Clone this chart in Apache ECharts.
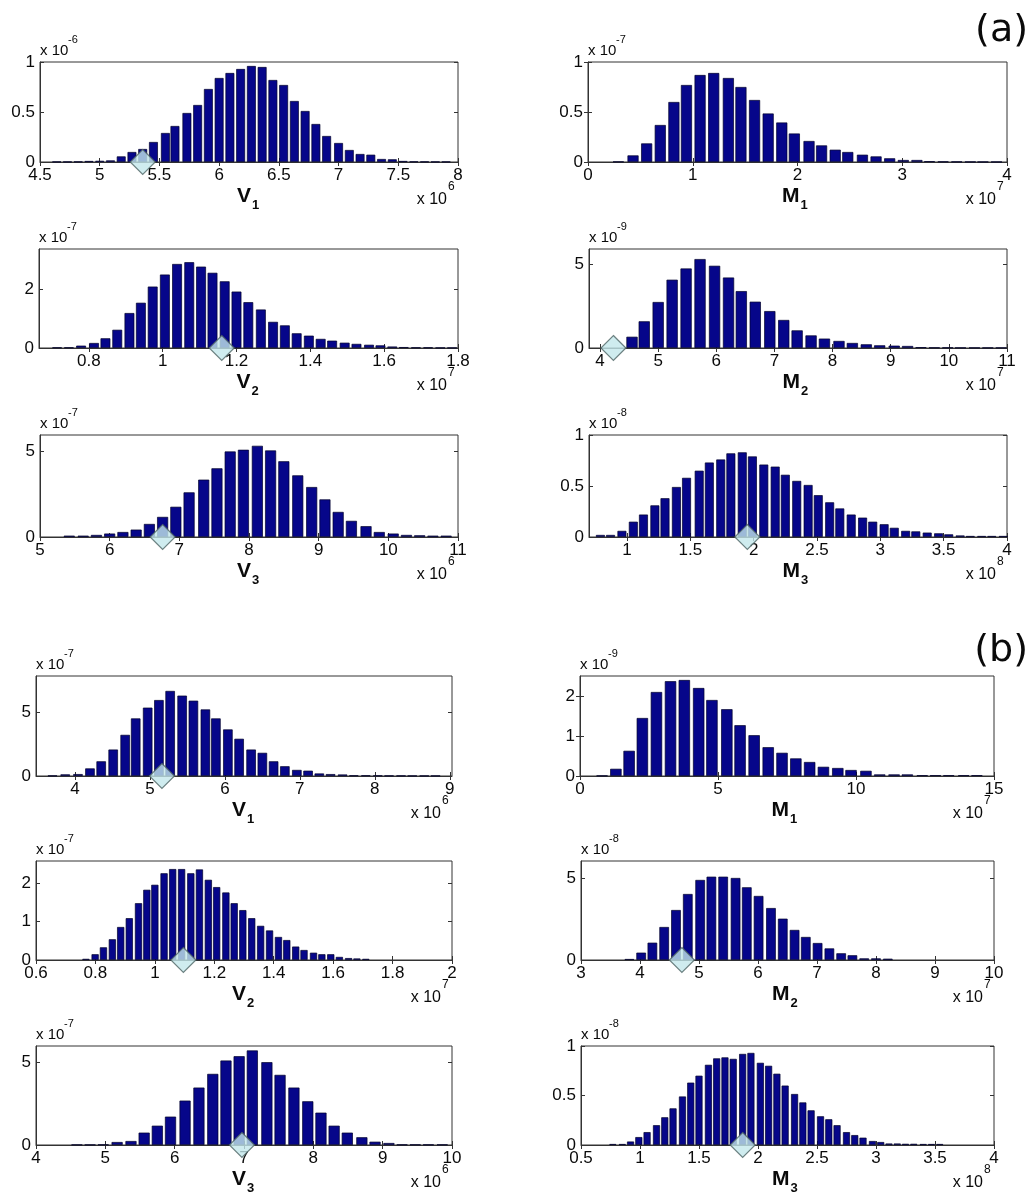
<!DOCTYPE html>
<html>
<head>
<meta charset="utf-8">
<script src="https://cdn.jsdelivr.net/npm/echarts@6/dist/echarts.min.js"></script>
<style>
html,body{margin:0;padding:0;background:#fff;}
#chart{width:1032px;height:1202px;}
</style>
</head>
<body>
<div id="chart"></div>
<script>
// ---------- (a) ----------
const aV1_x = [4.64,4.73,4.82,4.91,5.0,5.09,5.18,5.27,5.36,5.45,5.55,5.63,5.73,5.82,5.91,6.0,6.09,6.18,6.27,6.36,6.45,6.54,6.63,6.72,6.81,6.9,7.0,7.09,7.18,7.27,7.36,7.45,7.54,7.63,7.72,7.81,7.9];
const aV1_y = [0.003,0.003,0.004,0.01,0.012,0.016,0.056,0.1,0.13,0.2,0.29,0.36,0.49,0.57,0.73,0.84,0.89,0.93,0.96,0.95,0.82,0.77,0.61,0.51,0.38,0.26,0.19,0.12,0.08,0.073,0.03,0.027,0.01,0.005,0.004,0.003,0.003];
const aV1_xt = [4.5,5,5.5,6,6.5,7,7.5,8];
const aV1_yt = [0,0.5,1];
const aV1_mark = [5.36];

const aM1_x = [0.29,0.43,0.56,0.69,0.82,0.94,1.07,1.2,1.34,1.46,1.59,1.72,1.85,1.97,2.11,2.23,2.36,2.48,2.62,2.75,2.88,3.01,3.14,3.26,3.39,3.52,3.65,3.77,3.9];
const aM1_y = [0.004,0.066,0.186,0.37,0.6,0.77,0.87,0.89,0.84,0.75,0.62,0.485,0.395,0.285,0.21,0.166,0.123,0.1,0.073,0.056,0.037,0.02,0.02,0.008,0.005,0.004,0.003,0.002,0.002];
const aM1_xt = [0,1,2,3,4];
const aM1_yt = [0,0.5,1];
const aM1_mark = [];

const aV2_x = [0.714,0.746,0.779,0.814,0.845,0.877,0.91,0.941,0.973,1.006,1.039,1.072,1.104,1.135,1.168,1.2,1.232,1.266,1.299,1.331,1.363,1.396,1.428,1.459,1.493,1.525,1.559,1.59,1.622,1.653,1.686,1.719,1.752,1.784];
const aV2_y = [0.02,0.02,0.08,0.17,0.33,0.62,1.19,1.54,2.09,2.5,2.86,2.92,2.77,2.56,2.27,1.92,1.56,1.31,0.89,0.77,0.5,0.42,0.31,0.25,0.18,0.14,0.11,0.09,0.05,0.03,0.02,0.02,0.01,0.01];
const aV2_xt = [0.8,1,1.2,1.4,1.6,1.8];
const aV2_yt = [0,2];
const aV2_mark = [1.16];

const aM2_x = [4.55,4.76,5.0,5.24,5.48,5.72,5.97,6.21,6.43,6.67,6.92,7.16,7.39,7.63,7.86,8.11,8.34,8.58,8.81,9.06,9.29,9.52,9.75,9.98,10.2,10.44,10.67,10.9];
const aM2_y = [0.67,1.59,2.74,4.07,4.74,5.3,4.9,4.2,3.39,2.76,2.2,1.67,1.05,0.75,0.56,0.42,0.3,0.22,0.16,0.14,0.12,0.05,0.03,0.03,0.02,0.02,0.02,0.02];
const aM2_xt = [4,5,6,7,8,9,10,11];
const aM2_yt = [0,5];
const aM2_mark = [4.23];

const aV3_x = [5.42,5.62,5.81,6.0,6.19,6.38,6.57,6.76,6.95,7.14,7.35,7.54,7.73,7.92,8.12,8.31,8.5,8.7,8.9,9.09,9.28,9.47,9.68,9.87,10.07,10.26,10.45,10.64,10.83];
const aV3_y = [0.08,0.08,0.12,0.2,0.29,0.43,0.76,1.17,1.76,2.6,3.34,4.0,4.98,5.08,5.31,5.04,4.41,3.59,2.91,2.19,1.46,0.94,0.63,0.29,0.2,0.12,0.1,0.08,0.08];
const aV3_xt = [5,6,7,8,9,10,11];
const aV3_yt = [0,5];
const aV3_mark = [6.76];

const aM3_x = [0.79,0.87,0.96,1.05,1.13,1.22,1.3,1.39,1.47,1.57,1.65,1.74,1.82,1.91,1.99,2.08,2.17,2.25,2.34,2.43,2.51,2.6,2.68,2.77,2.86,2.94,3.03,3.11,3.2,3.28,3.37,3.46,3.54,3.63,3.71,3.8,3.88,3.97];
const aM3_y = [0.02,0.02,0.06,0.15,0.22,0.31,0.38,0.49,0.58,0.65,0.73,0.76,0.82,0.83,0.79,0.71,0.69,0.61,0.55,0.51,0.41,0.34,0.28,0.22,0.19,0.15,0.125,0.09,0.06,0.055,0.043,0.036,0.026,0.015,0.01,0.01,0.01,0.01];
const aM3_xt = [1,1.5,2,2.5,3,3.5,4];
const aM3_yt = [0,0.5,1];
const aM3_mark = [1.95];

// ---------- (b) ----------
const bV1_x = [3.70,3.87,4.04,4.2,4.35,4.51,4.67,4.81,4.97,5.12,5.27,5.43,5.58,5.74,5.88,6.04,6.19,6.35,6.5,6.65,6.8,6.96,7.11,7.26,7.41,7.57,7.72,7.88,8.04,8.19,8.35,8.5,8.66,8.81];
const bV1_y = [0.03,0.13,0.15,0.6,1.16,2.09,3.25,4.55,5.4,6.0,6.72,6.35,5.95,5.26,4.55,3.68,2.94,2.09,1.83,1.16,0.77,0.48,0.42,0.2,0.15,0.12,0.05,0.05,0.04,0.03,0.03,0.02,0.02,0.02];
const bV1_xt = [4,5,6,7,8,9];
const bV1_yt = [0,5];
const bV1_mark = [5.16];

const bM1_x = [0.8,1.3,1.78,2.26,2.77,3.28,3.78,4.3,4.78,5.32,5.8,6.31,6.82,7.32,7.82,8.32,8.82,9.34,9.82,10.36,10.86,11.38,11.86,12.4,12.88,13.36,13.9,14.38];
const bM1_y = [0.01,0.18,0.63,1.45,2.1,2.37,2.4,2.2,1.9,1.67,1.27,1.02,0.72,0.58,0.44,0.35,0.23,0.2,0.15,0.13,0.04,0.04,0.04,0.02,0.02,0.02,0.02,0.02];
const bM1_xt = [0,5,10,15];
const bM1_yt = [0,1,2];
const bM1_mark = [];

const bV2_x = [0.768,0.799,0.827,0.857,0.885,0.914,0.945,0.973,1.0,1.031,1.06,1.09,1.121,1.15,1.18,1.208,1.239,1.267,1.296,1.326,1.356,1.386,1.416,1.444,1.474,1.502,1.534,1.562,1.592,1.621,1.652,1.68,1.71];
const bV2_y = [0.03,0.15,0.33,0.54,0.86,1.09,1.48,1.83,1.96,2.26,2.37,2.37,2.26,2.36,2.09,1.9,1.76,1.48,1.3,1.09,0.89,0.77,0.6,0.52,0.35,0.26,0.19,0.15,0.15,0.08,0.05,0.04,0.03];
const bV2_xt = [0.6,0.8,1,1.2,1.4,1.6,1.8,2];
const bV2_yt = [0,1,2];
const bV2_mark = [1.096];

const bM2_x = [3.82,4.02,4.21,4.41,4.61,4.81,5.02,5.21,5.41,5.62,5.81,6.01,6.22,6.42,6.62,6.81,7.01,7.21,7.41,7.6,7.8,8.0,8.2];
const bM2_y = [0.06,0.45,1.06,2.02,3.06,4.04,4.9,5.1,5.1,5.02,4.45,3.92,3.18,2.53,1.84,1.41,1.04,0.71,0.41,0.29,0.1,0.1,0.08];
const bM2_xt = [3,4,5,6,7,8,9,10];
const bM2_yt = [0,5];
const bM2_mark = [4.71];

const bV3_x = [4.59,4.78,4.97,5.17,5.37,5.56,5.75,5.94,6.15,6.35,6.55,6.74,6.93,7.12,7.33,7.52,7.72,7.92,8.11,8.3,8.49,8.7,8.89,9.09,9.28,9.47,9.66,9.86];
const bV3_y = [0.02,0.02,0.03,0.18,0.24,0.75,1.17,1.72,2.69,3.48,4.31,5.12,5.38,5.73,5.02,4.25,3.48,2.65,1.96,1.17,0.75,0.47,0.2,0.12,0.03,0.03,0.03,0.03];
const bV3_xt = [4,5,6,7,8,9,10];
const bV3_yt = [0,5];
const bV3_mark = [6.97];

const bM3_x = [0.77,0.85,0.92,0.99,1.06,1.14,1.21,1.28,1.36,1.43,1.5,1.58,1.65,1.72,1.79,1.87,1.94,2.02,2.09,2.16,2.23,2.31,2.38,2.45,2.53,2.6,2.67,2.75,2.82,2.89,2.97,3.04,3.11,3.18,3.25,3.32,3.4,3.47,3.54];
const bM3_y = [0.01,0.01,0.035,0.08,0.13,0.2,0.28,0.37,0.49,0.63,0.7,0.81,0.875,0.885,0.87,0.92,0.93,0.83,0.8,0.72,0.6,0.515,0.43,0.35,0.29,0.26,0.2,0.13,0.1,0.074,0.04,0.03,0.015,0.015,0.012,0.012,0.01,0.01,0.01];
const bM3_xt = [0.5,1,1.5,2,2.5,3,3.5,4];
const bM3_yt = [0,0.5,1];
const bM3_mark = [1.87];

// panel descriptors (axis ranges, labels, exponents)
const panels = [
  {x:aV1_x, y:aV1_y, xr:[4.5,8],     xt:aV1_xt, ymax:1,    yt:aV1_yt, yexp:'-6', xexp:'6', sym:'V', sub:'1', mark:aV1_mark},
  {x:aM1_x, y:aM1_y, xr:[0,4],       xt:aM1_xt, ymax:1,    yt:aM1_yt, yexp:'-7', xexp:'7', sym:'M', sub:'1', mark:aM1_mark},
  {x:aV2_x, y:aV2_y, xr:[0.665,1.8], xt:aV2_xt, ymax:3.37, yt:aV2_yt, yexp:'-7', xexp:'7', sym:'V', sub:'2', mark:aV2_mark},
  {x:aM2_x, y:aM2_y, xr:[3.81,11],   xt:aM2_xt, ymax:5.9,  yt:aM2_yt, yexp:'-9', xexp:'7', sym:'M', sub:'2', mark:aM2_mark},
  {x:aV3_x, y:aV3_y, xr:[5,11],      xt:aV3_xt, ymax:5.94, yt:aV3_yt, yexp:'-7', xexp:'6', sym:'V', sub:'3', mark:aV3_mark},
  {x:aM3_x, y:aM3_y, xr:[0.7,4],     xt:aM3_xt, ymax:1,    yt:aM3_yt, yexp:'-8', xexp:'8', sym:'M', sub:'3', mark:aM3_mark},
  {x:bV1_x, y:bV1_y, xr:[3.48,9.03], xt:bV1_xt, ymax:7.9,  yt:bV1_yt, yexp:'-7', xexp:'6', sym:'V', sub:'1', mark:bV1_mark},
  {x:bM1_x, y:bM1_y, xr:[0,15],      xt:bM1_xt, ymax:2.5,  yt:bM1_yt, yexp:'-9', xexp:'7', sym:'M', sub:'1', mark:bM1_mark},
  {x:bV2_x, y:bV2_y, xr:[0.6,2],     xt:bV2_xt, ymax:2.58, yt:bV2_yt, yexp:'-7', xexp:'7', sym:'V', sub:'2', mark:bV2_mark},
  {x:bM2_x, y:bM2_y, xr:[3,10],      xt:bM2_xt, ymax:6.06, yt:bM2_yt, yexp:'-8', xexp:'7', sym:'M', sub:'2', mark:bM2_mark},
  {x:bV3_x, y:bV3_y, xr:[4,10],      xt:bV3_xt, ymax:6.0,  yt:bV3_yt, yexp:'-7', xexp:'6', sym:'V', sub:'3', mark:bV3_mark},
  {x:bM3_x, y:bM3_y, xr:[0.5,4],     xt:bM3_xt, ymax:1,    yt:bM3_yt, yexp:'-8', xexp:'8', sym:'M', sub:'3', mark:bM3_mark}
];

// plot rectangles [left, top, width, height]
const layout = [
  [40,62,418,100],[588,62,419,100],
  [39,249,419,99],[589,249,418,99],
  [40,435,418,102],[589,435,418,102],
  [36,676,416,100],[580,676,414,100],
  [36,861,416,99],[581,861,413,99],
  [36,1046,416,99],[581,1046,413,99]
];

const FONT = '"Liberation Sans", Arial, Helvetica, sans-serif';
const INK = '#0a0a0a';
const grid = [], xAxis = [], yAxis = [], series = [], graphic = [];

function txt(x, y, text, font, align, valign) {
  return {type:'text', x:x, y:y, silent:true, z:100,
    style:{text:text, font:font, fill:INK, textAlign:align, textVerticalAlign:valign, align:align, verticalAlign:valign}};
}

panels.forEach((p, i) => {
  const [L, T, W, H] = layout[i];
  const R = L + W, B = T + H;
  grid.push({left:L, top:T, width:W, height:H, show:true, borderColor:'#333', borderWidth:1, backgroundColor:'#fff', containLabel:false});
  const tickStyle = {color:'#333', width:1};
  xAxis.push({gridIndex:i, type:'value', min:p.xr[0], max:p.xr[1], position:'bottom',
    splitLine:{show:false},
    axisLine:{show:true, onZero:false, lineStyle:{color:'#333', width:1}},
    axisTick:{show:true, inside:true, length:4, customValues:p.xt, lineStyle:tickStyle},
    axisLabel:{show:true, customValues:p.xt, margin:5, fontSize:17, color:INK, fontFamily:FONT, formatter:(v)=>String(v)}});
  xAxis.push({gridIndex:i, type:'value', min:p.xr[0], max:p.xr[1], position:'top',
    splitLine:{show:false}, axisLine:{show:false},
    axisTick:{show:true, inside:true, length:4, customValues:p.xt, lineStyle:tickStyle},
    axisLabel:{show:false}});
  yAxis.push({gridIndex:i, type:'value', min:0, max:p.ymax, position:'left',
    splitLine:{show:false},
    axisLine:{show:true, onZero:false, lineStyle:{color:'#333', width:1}},
    axisTick:{show:true, inside:true, length:4, customValues:p.yt, lineStyle:tickStyle},
    axisLabel:{show:true, customValues:p.yt, margin:5, fontSize:17, color:INK, fontFamily:FONT, formatter:(v)=>String(v)}});
  yAxis.push({gridIndex:i, type:'value', min:0, max:p.ymax, position:'right',
    splitLine:{show:false}, axisLine:{show:false},
    axisTick:{show:true, inside:true, length:4, customValues:p.yt, lineStyle:tickStyle},
    axisLabel:{show:false}});

  const n = p.x.length;
  const spacing = (p.x[n-1] - p.x[0]) / (n - 1);
  const bw = 0.82 * spacing * W / (p.xr[1] - p.xr[0]);
  series.push({type:'bar', xAxisIndex:2*i, yAxisIndex:2*i, silent:true,
    data:p.x.map((v,k)=>[v, p.y[k]]), barWidth:bw,
    itemStyle:{color:'#06068a', borderColor:'#00002a', borderWidth:0.7}});
  if (p.mark.length) {
    series.push({type:'scatter', xAxisIndex:2*i, yAxisIndex:2*i, silent:true, clip:false, z:10,
      data:p.mark.map(m=>[m, 0]), symbol:'diamond', symbolSize:[25,25],
      itemStyle:{color:'#c3e7eb', borderColor:'#4d6464', borderWidth:1.2}});
  }

  // y exponent (top-left)
  graphic.push(txt(L, T-11, 'x 10', '15px ' + FONT, 'left', 'middle'));
  graphic.push(txt(L+28, T-22, p.yexp, '11px ' + FONT, 'left', 'middle'));
  // x exponent (bottom-right)
  graphic.push(txt(R-11, B+38, 'x 10', '16px ' + FONT, 'right', 'middle'));
  graphic.push(txt(R-10, B+25, p.xexp, '12px ' + FONT, 'left', 'middle'));
  // x-axis name with subscript
  const cx = L + W/2;
  graphic.push(txt(cx+2, B+34, p.sym, 'bold 21px ' + FONT, 'right', 'middle'));
  graphic.push(txt(cx+3, B+43, p.sub, 'bold 13px ' + FONT, 'left', 'middle'));
});

graphic.push(txt(1028, 31, '(a)', '38px "DejaVu Sans", "Open Sans", sans-serif', 'right', 'middle'));
graphic.push(txt(1028, 651, '(b)', '38px "DejaVu Sans", "Open Sans", sans-serif', 'right', 'middle'));

const chart = echarts.init(document.getElementById('chart'), null, {renderer:'canvas'});
chart.setOption({
  animation:false,
  backgroundColor:'#fff',
  grid:grid, xAxis:xAxis, yAxis:yAxis, series:series, graphic:graphic
});
</script>
</body>
</html>
